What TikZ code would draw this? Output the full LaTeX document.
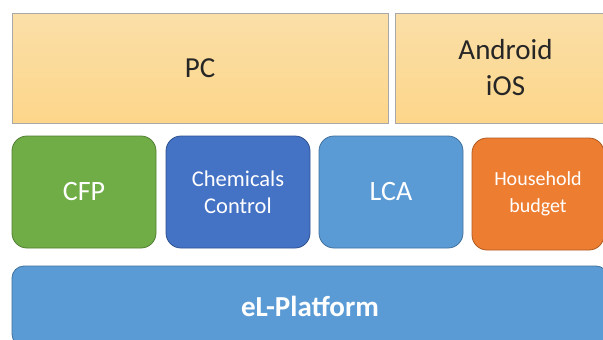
\documentclass[tikz,border=0pt]{standalone}
\usepackage{fontspec}
\setmainfont{Carlito}
\definecolor{topfillA}{HTML}{FADFA8}
\definecolor{topfillB}{HTML}{FDD68A}
\definecolor{topline}{HTML}{A8A8A8}
\definecolor{cgreen}{HTML}{70AD47}
\definecolor{cgreenD}{HTML}{507E32}
\definecolor{cblue}{HTML}{4472C4}
\definecolor{cblueD}{HTML}{2F528F}
\definecolor{clblue}{HTML}{5B9BD5}
\definecolor{clblueD}{HTML}{41719C}
\definecolor{corange}{HTML}{ED7D31}
\definecolor{corangeD}{HTML}{AE5A21}
\definecolor{darktext}{HTML}{262626}
\begin{document}
\begin{tikzpicture}[x=1pt,y=-1pt,
  topbox/.style={draw=topline, line width=0.8pt, top color=topfillA, bottom color=topfillB,
    minimum height=110pt, inner sep=0pt, align=center, text=darktext, font=\fontsize{29}{36}\selectfont},
  appbox/.style={rounded corners=15pt, line width=0.8pt, minimum height=112pt, minimum width=144pt,
    inner sep=0pt, align=center, text=white},
  basebox/.style={rounded corners=12pt, line width=0.8pt, fill=clblue, draw=clblueD,
    minimum height=80pt, inner sep=0pt, text=white, font=\bfseries\fontsize{29}{34}\selectfont}]
\useasboundingbox (0,0) rectangle (603,340);
\fill[white] (0,0) rectangle (603,340);
\clip (0,0) rectangle (603,340);
% top row
\node[topbox, minimum width=376pt] (pc) at (200,68) {PC};
\node[topbox, minimum width=221pt] (mob) at (505.5,68) {Android\\iOS};
% middle row
\node[appbox, fill=cgreen, draw=cgreenD, font=\fontsize{28}{33}\selectfont] (cfp) at (84,192) {CFP};
\node[appbox, fill=cblue, draw=cblueD, font=\fontsize{22.5}{27}\selectfont] (chem) at (238,192) {Chemicals\\Control};
\node[appbox, fill=clblue, draw=clblueD, font=\fontsize{28}{33}\selectfont] (lca) at (391,192) {LCA};
\node[appbox, fill=corange, draw=corangeD, minimum width=132pt, font=\fontsize{20}{27}\selectfont] (hh) at (538,194) {Household\\budget};
% base
\node[basebox, minimum width=596pt] (base) at (310,306) {eL-Platform};
\end{tikzpicture}
\end{document}
